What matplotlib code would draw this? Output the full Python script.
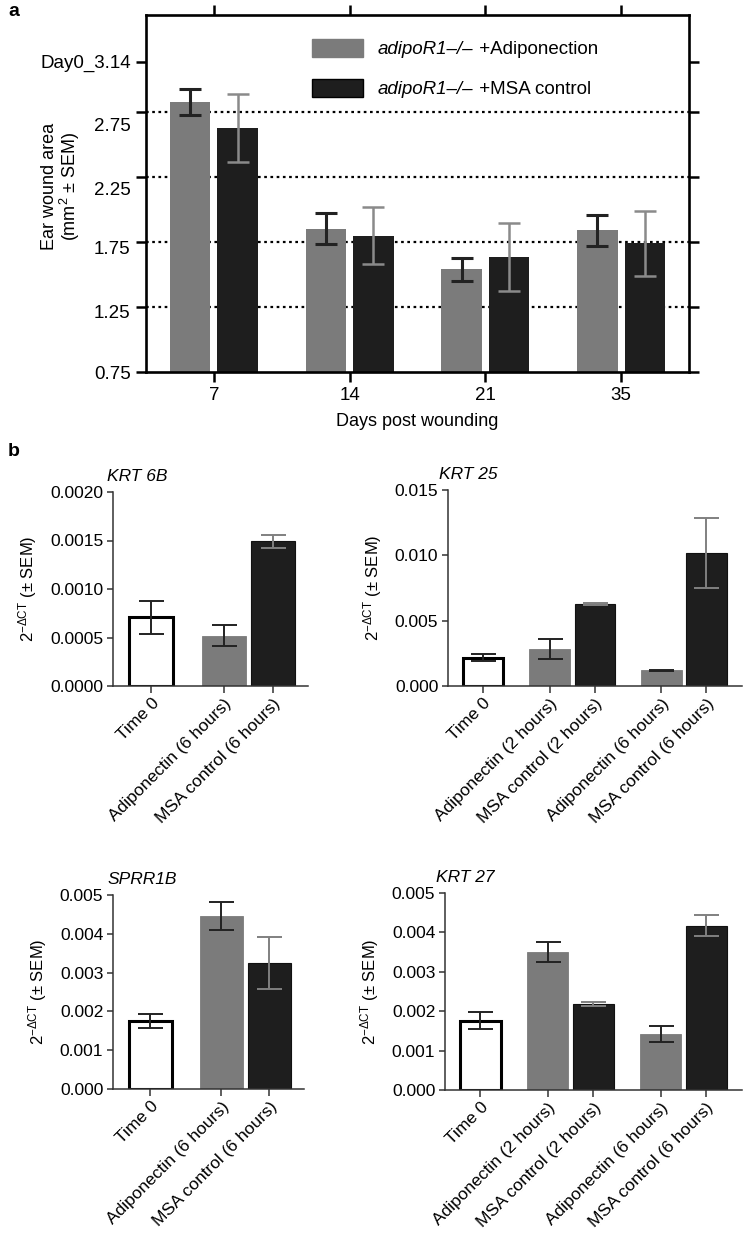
import numpy as np
import matplotlib
matplotlib.use("Agg")
import matplotlib.pyplot as plt
import matplotlib.transforms as mtrans
from matplotlib.patches import Rectangle
from matplotlib.ticker import FormatStrFormatter, MultipleLocator

plt.rcParams["font.family"] = ["Liberation Sans", "DejaVu Sans"]
plt.rcParams["mathtext.fontset"] = "custom"
plt.rcParams["mathtext.rm"] = "Liberation Sans"
plt.rcParams["mathtext.it"] = "Liberation Sans:italic"
plt.rcParams["mathtext.bf"] = "Liberation Sans:bold"

# ── panel a: ear wound area ──────────────────
days       = ["7", "14", "21", "35"]
adipo_mean = [2.83, 1.855, 1.54, 1.843]
adipo_sem  = [0.10, 0.12, 0.09, 0.12]
msa_mean   = [2.63, 1.80, 1.637, 1.742]
msa_sem    = [0.265, 0.22, 0.26, 0.25]
a_ticks    = [0.75, 1.25, 1.75, 2.25, 2.75, 3.14]
a_labels   = ["0.75", "1.25", "1.75", "2.25", "2.75", "Day0_3.14"]
a_grid     = [1.25, 1.75, 2.25, 2.75]
legend_gene  = "adipoR1–/–"
legend_treat = [" +Adiponection", " +MSA control"]

# ── panel b: qPCR ───────────────────────────
lab3 = ["Time 0", "Adiponectin (6 hours)", "MSA control (6 hours)"]
lab5 = ["Time 0", "Adiponectin (2 hours)", "MSA control (2 hours)",
        "Adiponectin (6 hours)", "MSA control (6 hours)"]

krt6b_mean  = [0.00071, 0.00052, 0.00149]
krt6b_sem   = [0.00017, 0.00011, 0.00007]
krt25_mean  = [0.00218, 0.00280, 0.00627, 0.00121, 0.01017]
krt25_sem   = [0.00024, 0.00076, 0.00005, 0.00003, 0.00270]
sprr1b_mean = [0.00176, 0.00447, 0.00324]
sprr1b_sem  = [0.00018, 0.00036, 0.00067]
krt27_mean  = [0.00176, 0.00350, 0.00218, 0.00142, 0.00417]
krt27_sem   = [0.00022, 0.00025, 0.00006, 0.00020, 0.00026]

GRAY  = "#7b7b7b"
BLACK = "#1e1e1e"
DARK  = "#222222"

fig = plt.figure(figsize=(7.44, 12.48), dpi=100)

# ─────────────────────────────────────────
# Panel a
# ─────────────────────────────────────────
ax = fig.add_axes([146/744, 1-372/1248, 543/744, 357/1248])
x = np.arange(len(days))
w = 0.3
for yv in a_grid:
    ax.axhline(yv, color="black", lw=1.6, ls=(0, (1.2, 1.6)), zorder=0)
ax.bar(x - 0.175, adipo_mean, width=w, color=GRAY, zorder=2)
ax.bar(x + 0.175, msa_mean, width=w, color=BLACK, zorder=2)
ax.errorbar(x - 0.175, adipo_mean, yerr=adipo_sem, fmt="none", ecolor=DARK,
            elinewidth=2.2, capsize=8, capthick=2.2, zorder=3)
ax.errorbar(x + 0.175, msa_mean, yerr=msa_sem, fmt="none", ecolor="#8a8a8a",
            elinewidth=1.8, capsize=8, capthick=1.8, zorder=3)

ax.set_xlim(-0.5, 3.5)
ax.set_ylim(0.75, 3.5)
ax.set_xticks(x)
ax.set_xticklabels(days)
ax.set_yticks(a_ticks)
ax.set_yticklabels(a_labels)
for sp in ax.spines.values():
    sp.set_linewidth(1.9)
ax.tick_params(axis="both", which="major", direction="out", length=7, width=1.8,
               labelsize=13.5, top=True, right=True, pad=4)
ax.set_xlabel("Days post wounding", fontsize=13, labelpad=6)
ax.set_ylabel("Ear wound area\n(mm$^2$ ± SEM)", fontsize=13, linespacing=1.0)
ax.yaxis.set_label_coords(-0.117, 0.52)

# the original figure prints the middle y labels a little below their ticks
shift_px = [0, 4, 5, 11, 12, 0]
for lbl, dpx in zip(ax.get_yticklabels(), shift_px):
    off = mtrans.ScaledTranslation(0, -dpx / 100, fig.dpi_scale_trans)
    lbl.set_transform(lbl.get_transform() + off)

# legend drawn by hand: swatch, italic gene name, plain treatment
swatch_fc = [GRAY, BLACK]
swatch_ec = [GRAY, "#000000"]
for i, treat in enumerate(legend_treat):
    yc = 0.9076 - i * 0.112
    ax.add_patch(Rectangle((0.3057, yc - 0.024), 0.094, 0.048, transform=ax.transAxes,
                           facecolor=swatch_fc[i], edgecolor=swatch_ec[i],
                           linewidth=1.0, zorder=4))
    t1 = ax.text(0.4273, yc - 0.004, legend_gene, transform=ax.transAxes,
                 fontsize=13.5, fontstyle="italic", va="center", ha="left")
    ax.annotate(treat, xy=(1, 0.5), xycoords=t1, fontsize=13.5,
                va="center", ha="left")

fig.text(8/744, 1-12/1248, "a", fontsize=14, fontweight="bold", va="center")
fig.text(8/744, 1-452/1248, "b", fontsize=14, fontweight="bold", va="center")


# ─────────────────────────────────────────
# Panel b
# ─────────────────────────────────────────
def positions(n):
    # Time 0 alone, then pairs (adiponectin, control) with a wider gap between groups
    pos = [0.0]
    cur = 0.0
    for i in range(1, n):
        cur += 1.48 if i % 2 == 1 else 1.0
        pos.append(cur)
    return np.array(pos)


def qpcr_panel(rect, title, labels, mean, sem, ymax, step, fmt, xlim_right):
    bx = fig.add_axes(rect)
    xp = positions(len(mean))
    for i, (xi, m, s) in enumerate(zip(xp, mean, sem)):
        if i == 0:
            fc, ec, lw, erc = "white", "black", 2.2, DARK
        elif i % 2 == 1:
            fc, ec, lw, erc = GRAY, GRAY, 0.6, DARK
        else:
            fc, ec, lw, erc = BLACK, "#111111", 0.8, "#808080"
        bx.bar(xi, m, width=0.9, color=fc, edgecolor=ec, linewidth=lw, zorder=2)
        bx.errorbar(xi, m, yerr=s, fmt="none", ecolor=erc, elinewidth=1.4,
                    capsize=9, capthick=1.4, zorder=3)
    bx.set_xlim(-0.78, xlim_right)
    bx.set_ylim(0, ymax)
    bx.yaxis.set_major_locator(MultipleLocator(step))
    bx.yaxis.set_major_formatter(FormatStrFormatter(fmt))
    bx.set_xticks(xp)
    bx.set_xticklabels(labels, rotation=45, ha="right", rotation_mode="anchor")
    for side in ("top", "right"):
        bx.spines[side].set_visible(False)
    for side in ("left", "bottom"):
        bx.spines[side].set_linewidth(1.1)
        bx.spines[side].set_color("#333333")
    bx.tick_params(axis="y", direction="out", length=4, width=1.1, color="#333333",
                   labelsize=12.5, pad=3)
    bx.tick_params(axis="x", direction="out", length=5, width=1.1, color="#333333",
                   labelsize=12.5, pad=2)
    bx.set_ylabel(r"2$^{-\Delta\mathrm{CT}}$ (± SEM)", fontsize=12, labelpad=8)
    bx.text(-0.03, 1.04, title, transform=bx.transAxes, fontsize=12.5,
            fontstyle="italic", ha="left", va="bottom")
    return bx


qpcr_panel([113/744, 1-686/1248, 195/744, 194/1248], "KRT 6B", lab3,
           krt6b_mean, krt6b_sem, 0.002, 0.0005, "%.4f", 3.2)
qpcr_panel([448/744, 1-686/1248, 294/744, 196/1248], "KRT 25", lab5,
           krt25_mean, krt25_sem, 0.015, 0.005, "%.3f", 5.75)
qpcr_panel([113/744, 1-1089/1248, 191/744, 194/1248], "SPRR1B", lab3,
           sprr1b_mean, sprr1b_sem, 0.005, 0.001, "%.3f", 3.2)
qpcr_panel([445/744, 1-1090/1248, 297/744, 197/1248], "KRT 27", lab5,
           krt27_mean, krt27_sem, 0.005, 0.001, "%.3f", 5.75)

fig.savefig("out.png", dpi=100)
